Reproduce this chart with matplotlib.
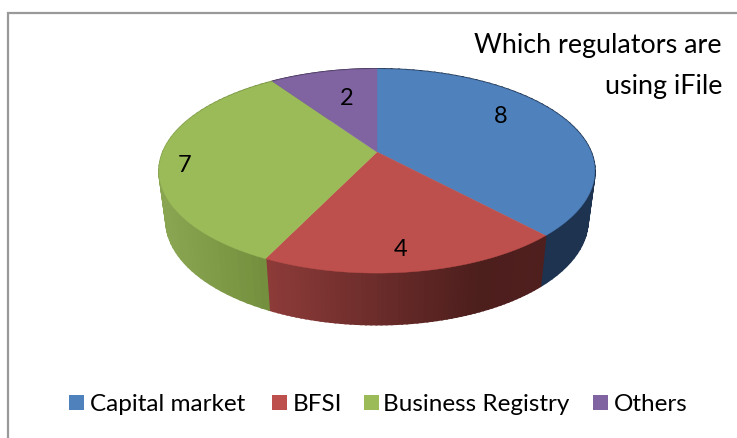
import numpy as np
import matplotlib
matplotlib.use('Agg')
import matplotlib.pyplot as plt
from matplotlib.colors import to_rgb

categories = ['Capital market', 'BFSI', 'Business Registry', 'Others']
values = [8, 4, 7, 2]
colors = ['#4f81bd', '#bd4f4c', '#9bbb59', '#8064a2']
title_lines = ['Which regulators are', 'using iFile']

# wall shading, colour at the x positions in wall_x
wall_x = [[170, 590], [268, 480, 545], [165, 268], [300, 380]]
wall_colors = [['#1d3350', '#1d3350'],
               ['#8c3b39', '#4c1e1c', '#4f1f1e'],
               ['#89a551', '#738f3d'],
               ['#4d3c62', '#4d3c62']]

# pixel layout of the tilted disc
cx, cy = 377, 153
a, b, k = 214, 98.5, 0.1865
label_pos = [(501, 117), (401, 250), (185, 166), (347, 99)]
legend_x = [69, 272, 364, 593]
legend_text_x = [90, 293, 383, 614]
legend_y = 404


def project(ang):
    # clockwise from 12 o'clock, far side of the disc comes out smaller
    X, Y = np.sin(ang), np.cos(ang)
    d = 1 + k * Y
    return a * X / d, b * Y / d


def top_xy(ang):
    u, v = project(ang)
    return cx + u, cy - v


def rim_xy(ang):
    u, v = project(ang)
    return cx + u * 0.968, 202 - v * 1.02


fig = plt.figure(figsize=(7.37, 4.39), dpi=100)
ax = fig.add_axes([0, 0, 1, 1])
ax.set_xlim(0, 737)
ax.set_ylim(439, 0)
ax.axis('off')
plt.rcParams['font.family'] = ['Lato', 'DejaVu Sans']

# chart frame, open on the right and bottom
ax.plot([8, 8, 737], [439, 14, 14], color='#999999', lw=1.6, solid_joinstyle='miter')

edges = np.cumsum([0] + values) / sum(values) * 2 * np.pi

# side wall first, top faces go over it
for i in range(len(values)):
    angs = np.linspace(edges[i], edges[i + 1], 60)
    stops = np.array([to_rgb(c) for c in wall_colors[i]])
    for a0, a1 in zip(angs[:-1], angs[1:]):
        x0, y0 = top_xy(a0)
        x1, y1 = top_xy(a1)
        x2, y2 = rim_xy(a1)
        x3, y3 = rim_xy(a0)
        mid = (x0 + x1) / 2
        col = [np.interp(mid, wall_x[i], stops[:, n]) for n in range(3)]
        ax.fill([x0, x1, x2, x3], [y0, y1, y2, y3], color=col, lw=1.4, zorder=2)

for i in range(len(values)):
    angs = np.linspace(edges[i], edges[i + 1], 120)
    xs, ys = top_xy(angs)
    ax.fill(np.r_[cx, xs], np.r_[cy, ys], color=colors[i], lw=0.3, zorder=3)
    ax.text(label_pos[i][0], label_pos[i][1], str(values[i]), fontsize=17,
            ha='center', va='center', color='black', zorder=4)

ax.text(722, 45.5, title_lines[0], fontsize=19.4, ha='right', va='center', color='black')
ax.text(722, 86.5, title_lines[1], fontsize=19.4, ha='right', va='center', color='black')

for i in range(len(categories)):
    ax.fill([legend_x[i], legend_x[i] + 15, legend_x[i] + 15, legend_x[i]],
            [legend_y - 8, legend_y - 8, legend_y + 7, legend_y + 7],
            color=colors[i], lw=0)
    ax.text(legend_text_x[i], legend_y + 0.5, categories[i], fontsize=17.5, ha='left',
            va='center', color='black')

fig.savefig('out.png', dpi=100)
